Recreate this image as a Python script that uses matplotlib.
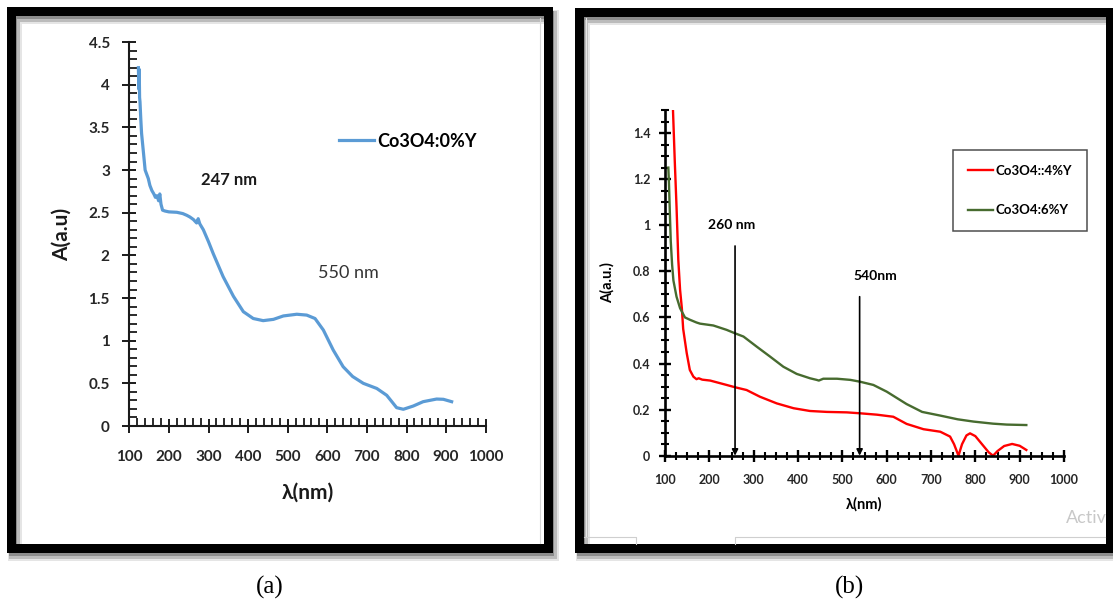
import matplotlib
matplotlib.use("Agg")
import matplotlib.pyplot as plt
from matplotlib.patches import Rectangle
from matplotlib.ticker import MultipleLocator, FuncFormatter

# ---------------- data ----------------
# Panel (a): Co3O4:0%Y
wl_a = [123, 124, 125, 126, 127, 129, 131, 135, 140, 144, 148, 152, 157, 162, 166,
        170, 174, 177, 180, 184, 190, 200, 220, 235, 245, 253, 262, 270, 274, 278,
        287, 300, 312, 337, 363, 388, 413, 438, 464, 489, 523, 548, 569, 590, 615,
        640, 664, 691, 725, 750, 763, 775, 792, 817, 842, 876, 893, 914]
abs_a = [4.20, 3.95, 4.18, 3.85, 3.80, 3.60, 3.43, 3.24, 3.00, 2.95, 2.90, 2.82, 2.76, 2.72, 2.68,
         2.70, 2.64, 2.72, 2.60, 2.53, 2.52, 2.51, 2.505, 2.49, 2.47, 2.45, 2.42, 2.38, 2.43, 2.37,
         2.30, 2.16, 2.02, 1.75, 1.52, 1.34, 1.26, 1.235, 1.25, 1.29, 1.31, 1.30, 1.26, 1.125, 0.89,
         0.695, 0.58, 0.50, 0.44, 0.36, 0.285, 0.215, 0.196, 0.234, 0.285, 0.316, 0.313, 0.285]
label_a = "Co3O4:0%Y"
peaks_a = ["247 nm", "550 nm"]
peaks_a_x = [352, 653]
peaks_a_y = [2.88, 1.79]

# Panel (b): Co3O4:4%Y (red) and Co3O4:6%Y (green)
wl_b4 = [117, 118, 122, 126, 130, 134, 138, 141, 149, 156, 164, 171, 176, 184, 202,
         239, 258, 284, 314, 352, 390, 427, 465, 510, 540, 578, 615, 645, 683, 721,
         743, 752, 762, 770, 780, 788, 800, 815, 830, 840, 850, 865, 883, 900, 915]
abs_b4 = [1.60, 1.50, 1.28, 1.08, 0.85, 0.72, 0.64, 0.55, 0.445, 0.372, 0.343, 0.332, 0.336, 0.33, 0.326,
          0.307, 0.297, 0.285, 0.256, 0.227, 0.206, 0.194, 0.19, 0.188, 0.184, 0.178, 0.169, 0.138, 0.115, 0.104,
          0.083, 0.05, 0.0, 0.05, 0.088, 0.097, 0.085, 0.05, 0.015, 0.0, 0.02, 0.042, 0.051, 0.043, 0.025]
wl_b6 = [107.5, 109, 111, 113, 116, 119, 126, 134, 145, 156, 171, 179, 209, 239, 258,
         277, 307, 337, 367, 397, 427, 442, 447, 457, 488, 518, 540, 570, 600, 630,
         645, 680, 721, 760, 796, 840, 871, 915]
abs_b6 = [1.25, 1.18, 1.05, 0.93, 0.83, 0.76, 0.69, 0.64, 0.60, 0.59, 0.578, 0.573, 0.565, 0.546, 0.531,
          0.517, 0.473, 0.43, 0.386, 0.355, 0.336, 0.329, 0.326, 0.334, 0.334, 0.329, 0.321, 0.307, 0.278, 0.242,
          0.224, 0.19, 0.174, 0.158, 0.148, 0.139, 0.135, 0.133]
label_b4 = "Co3O4::4%Y"
label_b6 = "Co3O4:6%Y"
peaks_b = ["260 nm", "540nm"]
peaks_b_x = [250, 575]
peaks_b_y = [1.0, 0.78]
arrow_x = [258, 539]
arrow_top = [0.91, 0.69]

captions = ["(a)", "(b)"]

# ---------------- figure ----------------
W, H = 1113, 602
fig = plt.figure(figsize=(W / 100, H / 100), dpi=100)
fig.patch.set_facecolor("white")
FONT = "Lato"


def px_axes(x0, y0, x1, y1, **kw):
    """axes from pixel box (top-left origin)"""
    return fig.add_axes([x0 / W, 1 - y1 / H, (x1 - x0) / W, (y1 - y0) / H], **kw)


# background canvas in pixel coordinates
bg = fig.add_axes([0, 0, 1, 1], zorder=-5)
bg.set_xlim(0, W)
bg.set_ylim(H, 0)
bg.axis("off")


def frame(x0, y0, x1, y1):
    for off, lw, a in [(6, 14, 0.10), (5, 11, 0.18), (4, 8, 0.25)]:
        bg.add_patch(Rectangle((x0 + off * 0.6, y0 + off), x1 - x0, y1 - y0, fill=False,
                               edgecolor="black", lw=lw * 0.72, alpha=a, joinstyle="miter"))
    bg.add_patch(Rectangle((x0, y0), x1 - x0, y1 - y0, fill=False, edgecolor="black",
                           lw=9 * 0.72, joinstyle="miter"))


frame(11, 11, 548, 548)
frame(579, 12, 1110, 548)
# faint excel chart-area edges
bg.plot([540, 540], [18, 543], color="#d8d8d8", lw=0.8)
bg.plot([586, 586], [18, 536], color="#e6e6e6", lw=0.8)
bg.plot([584, 636, 636], [537, 537, 544], color="#cfcfcf", lw=0.8)
bg.plot([735, 735, 1105], [544, 537, 537], color="#cfcfcf", lw=0.8)
bg.text(1066, 518, "Activ", fontsize=13, color="#c8c8c8", family=FONT,
        va="center", ha="left", zorder=10)

for cx, cap in zip([270, 850], captions):
    bg.text(cx, 587, cap, fontsize=18, family="Liberation Serif", ha="center", va="center")

# ---------------- panel (a) ----------------
axa = px_axes(129.3, 42.1, 485.7, 426)
axa.plot(wl_a, abs_a, color="#5B9BD5", lw=2.3, label=label_a, solid_joinstyle="round")
axa.set_xlim(100, 1000)
axa.set_ylim(0, 4.5)
for s in ["top", "right"]:
    axa.spines[s].set_visible(False)
for s in ["left", "bottom"]:
    axa.spines[s].set_linewidth(1.5)
    axa.spines[s].set_color("#1a1a1a")
axa.xaxis.set_major_locator(MultipleLocator(100))
axa.xaxis.set_minor_locator(MultipleLocator(20))
axa.yaxis.set_major_locator(MultipleLocator(0.5))
axa.yaxis.set_minor_locator(MultipleLocator(0.1))
axa.yaxis.set_major_formatter(FuncFormatter(lambda v, p: f"{v:g}"))
axa.tick_params(which="major", direction="inout", length=10, width=1.4, color="#1a1a1a")
axa.tick_params(which="minor", direction="in", length=6, width=1.3, color="#1a1a1a")
axa.tick_params(axis="x", which="major", pad=12)
axa.tick_params(axis="y", which="major", pad=9)
for lab in axa.get_xticklabels() + axa.get_yticklabels():
    lab.set_fontfamily(FONT)
    lab.set_fontweight("bold")
    lab.set_fontsize(11)
    lab.set_color("#262626")
axa.set_xlabel("λ(nm)", fontsize=15, fontweight="bold", family=FONT, labelpad=14, color="#1a1a1a")
axa.set_ylabel("A(a.u)", fontsize=15, fontweight="bold", family=FONT, labelpad=12, color="#1a1a1a")
axa.text(peaks_a_x[0], peaks_a_y[0], peaks_a[0], fontsize=12, fontweight="bold", family=FONT,
         ha="center", va="center", color="#1a1a1a")
axa.text(peaks_a_x[1], peaks_a_y[1], peaks_a[1], fontsize=13, family=FONT,
         ha="center", va="center", color="#333333")
axa.legend(loc="center left", bbox_to_anchor=(0.588, 0.742), frameon=False,
           prop={"family": FONT, "weight": "bold", "size": 13},
           handlelength=1.95, handletextpad=0.15, borderpad=0, borderaxespad=0)

# ---------------- panel (b) ----------------
axb = px_axes(665, 110, 1064, 455.7)
axb.plot(wl_b4, abs_b4, color="#FF0000", lw=1.7, label=label_b4)
axb.plot(wl_b6, abs_b6, color="#476B2F", lw=1.7, label=label_b6)
axb.set_xlim(100, 1000)
axb.set_ylim(0, 1.5)
for s in ["top", "right"]:
    axb.spines[s].set_visible(False)
for s in ["left", "bottom"]:
    axb.spines[s].set_linewidth(1.9)
    axb.spines[s].set_color("black")
axb.xaxis.set_major_locator(MultipleLocator(100))
axb.xaxis.set_minor_locator(MultipleLocator(25))
axb.yaxis.set_major_locator(MultipleLocator(0.2))
axb.yaxis.set_minor_locator(MultipleLocator(0.05))
axb.yaxis.set_major_formatter(FuncFormatter(lambda v, p: f"{v:g}"))
axb.tick_params(which="major", direction="inout", length=9, width=1.7)
axb.tick_params(which="minor", direction="inout", length=6, width=1.5)
axb.tick_params(axis="x", which="major", pad=9)
axb.tick_params(axis="y", which="major", pad=6)
for lab in axb.get_xticklabels() + axb.get_yticklabels():
    lab.set_fontfamily(FONT)
    lab.set_fontweight("bold")
    lab.set_fontsize(9)
    lab.set_color("#262626")
axb.set_xlabel("λ(nm)", fontsize=10.5, fontweight="bold", family=FONT, labelpad=8)
axb.set_ylabel("A(a.u.)", fontsize=10.5, fontweight="bold", family=FONT, labelpad=13)
for xa, ya in zip(arrow_x, arrow_top):
    axb.annotate("", xy=(xa, 0), xytext=(xa, ya),
                 arrowprops=dict(arrowstyle="-|>", color="black", lw=1.2,
                                 mutation_scale=9, shrinkA=0, shrinkB=0))
for t, xt, yt in zip(peaks_b, peaks_b_x, peaks_b_y):
    axb.text(xt, yt, t, fontsize=10, fontweight="bold", family=FONT, ha="center", va="center")
leg = axb.legend(loc="upper left", bbox_to_anchor=(0.7226, 0.884), frameon=True, fancybox=False,
                 prop={"family": FONT, "weight": "bold", "size": 9.5},
                 handlelength=1.9, handletextpad=0.2, borderpad=1.1, labelspacing=2.1,
                 borderaxespad=0)
leg.get_frame().set_edgecolor("#222222")
leg.get_frame().set_linewidth(1.1)

fig.savefig("out.png", dpi=100, facecolor="white")
